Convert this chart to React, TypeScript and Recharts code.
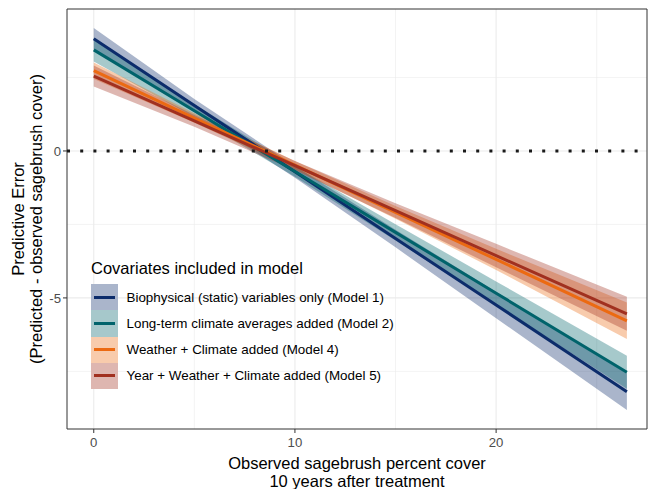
import React from "react";
import {
  ComposedChart,
  Area,
  Line,
  XAxis,
  YAxis,
  CartesianGrid,
  ReferenceLine,
  ReferenceArea,
  Legend,
} from "recharts";

// observed cover (x) where the fitted lines / ribbons were read
const cover = [0, 5, 10, 15, 20, 26.5];

// Model 1: biophysical only
const m1Fit = [3.82, 1.55, -0.71, -2.98, -5.24, -8.19];
const m1Lo = [3.46, 1.33, -0.91, -3.28, -5.69, -8.81];
const m1Hi = [4.18, 1.77, -0.51, -2.68, -4.79, -7.57];
// Model 2: long-term climate
const m2Fit = [3.44, 1.37, -0.7, -2.77, -4.84, -7.53];
const m2Lo = [3.04, 1.15, -0.88, -3.05, -5.24, -8.09];
const m2Hi = [3.84, 1.59, -0.52, -2.49, -4.44, -6.97];
// Model 4: weather + climate
const m4Fit = [2.73, 1.12, -0.48, -2.09, -3.69, -5.78];
const m4Lo = [2.45, 0.96, -0.62, -2.31, -4.05, -6.4];
const m4Hi = [3.01, 1.28, -0.34, -1.87, -3.33, -5.16];
// Model 5: year + weather + climate
const m5Fit = [2.55, 1.02, -0.5, -2.03, -3.56, -5.54];
const m5Lo = [2.19, 0.82, -0.66, -2.28, -3.96, -6.12];
const m5Hi = [2.91, 1.22, -0.34, -1.78, -3.16, -4.96];

const modelKeys = ["m1", "m2", "m4", "m5"];
const modelLabels = [
  "Biophysical (static) variables only (Model 1)",
  "Long-term climate averages added (Model 2)",
  "Weather + Climate added (Model 4)",
  "Year + Weather + Climate added (Model 5)",
];
const lineColors = ["#0c2c6b", "#00636b", "#ec6a12", "#a1301f"];

const xTicks = [0, 10, 20];
const yTicks = [-5, 0];
const xMinor = [5, 15, 25];
const yMinor = [-7.5, -2.5, 2.5];

const X_DOMAIN: [number, number] = [-1.33, 27.5];
const Y_DOMAIN: [number, number] = [-9.46, 4.83];

const FONT = "'Liberation Sans', Arial, sans-serif";
const BAND_OPACITY = 0.35;

const rows = cover.map((x, i) => ({
  x,
  m1: m1Fit[i],
  m1Band: [m1Lo[i], m1Hi[i]],
  m2: m2Fit[i],
  m2Band: [m2Lo[i], m2Hi[i]],
  m4: m4Fit[i],
  m4Band: [m4Lo[i], m4Hi[i]],
  m5: m5Fit[i],
  m5Band: [m5Lo[i], m5Hi[i]],
}));

function XTitle(props: any) {
  const vb = props.viewBox || {};
  const cx = vb.x + vb.width / 2;
  return (
    <text x={cx} textAnchor="middle" fontFamily={FONT} fontSize={16.5} fill="#000">
      <tspan x={cx} y={vb.y + 40}>Observed sagebrush percent cover</tspan>
      <tspan x={cx} y={vb.y + 58}>10 years after treatment</tspan>
    </text>
  );
}

function YTitle(props: any) {
  const vb = props.viewBox || {};
  const cy = vb.y + vb.height / 2;
  return (
    <text
      transform={`translate(0, ${cy}) rotate(-90)`}
      textAnchor="middle"
      fontFamily={FONT}
      fontSize={16.5}
      fill="#000"
    >
      <tspan x={0} y={24}>Predictive Error</tspan>
      <tspan x={0} y={42}>(Predicted - observed sagebrush cover)</tspan>
    </text>
  );
}

function ModelLegend() {
  return (
    <div style={{ fontFamily: FONT, color: "#000" }}>
      <div style={{ fontSize: 16.5, lineHeight: "20px", marginBottom: 6 }}>
        Covariates included in model
      </div>
      {modelKeys.map((k, i) => (
        <div key={k} style={{ display: "flex", alignItems: "center", height: 26.25 }}>
          <div style={{ width: 26.5, height: 26.25, position: "relative", background: lineColors[i] }}>
            <div style={{ position: "absolute", inset: 0, background: "#fff", opacity: 1 - BAND_OPACITY }} />
            <div
              style={{
                position: "absolute",
                left: 2.5,
                right: 3,
                top: 11.6,
                height: 3,
                background: lineColors[i],
              }}
            />
          </div>
          <span style={{ fontSize: 13.4, marginLeft: 9, whiteSpace: "nowrap" }}>{modelLabels[i]}</span>
        </div>
      ))}
    </div>
  );
}

export default function App() {
  return (
    <div style={{ position: "absolute", left: 0, top: 0, width: 648, height: 489, background: "#fff" }}>
      <ComposedChart
        width={648}
        height={489}
        data={rows}
        margin={{ top: 9, right: 1, left: 0, bottom: 0 }}
      >
        <CartesianGrid
          verticalValues={xMinor}
          horizontalValues={yMinor}
          stroke="#ebebeb"
          strokeWidth={0.6}
        />
        <CartesianGrid
          verticalValues={xTicks}
          horizontalValues={yTicks}
          stroke="#ebebeb"
          strokeWidth={1.1}
        />
        <XAxis
          dataKey="x"
          type="number"
          domain={X_DOMAIN}
          allowDataOverflow
          ticks={xTicks}
          axisLine={false}
          tickLine={{ stroke: "#333333" }}
          tickSize={4}
          tickMargin={5}
          height={60}
          tick={{ fill: "#4d4d4d", fontSize: 13.2, fontFamily: FONT }}
          label={{ content: XTitle }}
        />
        <YAxis
          type="number"
          domain={Y_DOMAIN}
          allowDataOverflow
          ticks={yTicks}
          axisLine={false}
          tickLine={{ stroke: "#333333" }}
          tickSize={4}
          tickMargin={2}
          width={67}
          tick={{ fill: "#4d4d4d", fontSize: 13.2, fontFamily: FONT }}
          label={{ content: YTitle }}
        />
        {modelKeys.map((k, i) => (
          <Area
            key={k + "Band"}
            dataKey={k + "Band"}
            type="linear"
            stroke="none"
            fill={lineColors[i]}
            fillOpacity={BAND_OPACITY}
            isAnimationActive={false}
            activeDot={false}
          />
        ))}
        {modelKeys.map((k, i) => (
          <Line
            key={k}
            dataKey={k}
            type="linear"
            stroke={lineColors[i]}
            strokeWidth={3}
            dot={false}
            activeDot={false}
            isAnimationActive={false}
          />
        ))}
        <ReferenceLine y={0} stroke="#1a1a1a" strokeWidth={3} strokeDasharray="3 10.2" />
        <ReferenceArea
          x1={X_DOMAIN[0]}
          x2={X_DOMAIN[1]}
          y1={Y_DOMAIN[0]}
          y2={Y_DOMAIN[1]}
          fill="none"
          stroke="#333333"
          strokeWidth={1}
          fillOpacity={0}
        />
        <Legend
          layout="vertical"
          align="center"
          verticalAlign="middle"
          wrapperStyle={{ left: 91, top: 258, width: 340, height: "auto" }}
          content={() => <ModelLegend />}
        />
      </ComposedChart>
    </div>
  );
}
